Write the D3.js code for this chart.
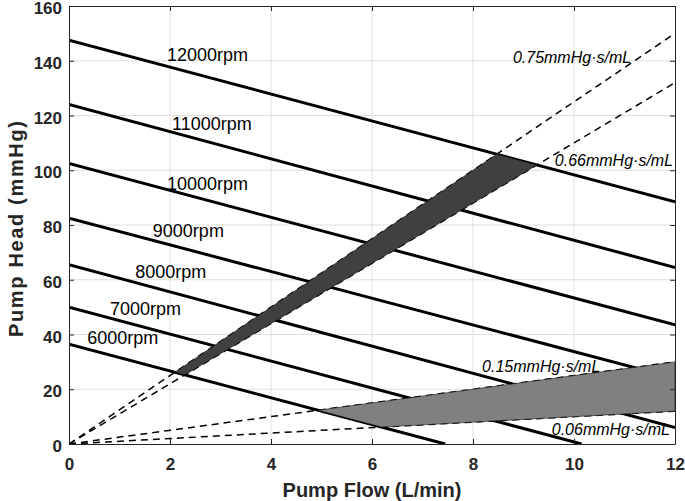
<!DOCTYPE html>
<html>
<head>
<meta charset="utf-8">
<script src="https://cdn.jsdelivr.net/npm/d3@7"></script>
<style>
body { margin: 0; background: #fff; }
text { font-family: Arial, "Liberation Sans", Helvetica, sans-serif; }
</style>
</head>
<body>
<script>
// pump curves: head at zero flow, and where each line ends
var speeds = ["6000rpm", "7000rpm", "8000rpm", "9000rpm", "10000rpm", "11000rpm", "12000rpm"];
var speedHead0 = [36.5, 50, 65.5, 82.5, 102.5, 124, 147.5];
var speedEndFlow = [7.45, 10.15, 12, 12, 12, 12, 12];
var speedEndHead = [0, 0, 6, 24, 43.5, 64.5, 88.5];

// resistance lines through the origin, head reached at 12 L/min
var resistances = ["0.06mmHg\u00B7s/mL", "0.15mmHg\u00B7s/mL", "0.66mmHg\u00B7s/mL", "0.75mmHg\u00B7s/mL"];
var resEndHead = [12, 30, 132, 150];

var xTicks = [0, 2, 4, 6, 8, 10, 12];
var yTicks = [0, 20, 40, 60, 80, 100, 120, 140, 160];

// label anchors (data units)
var speedLabelPos = [[0.36, 36.5], [0.81, 47.1], [1.31, 60.6], [1.66, 75.6], [1.94, 92.8], [2.04, 114.7], [1.94, 140.0]];
var resLabelPos = [[9.56, 3.3], [8.18, 26.4], [9.62, 101.6], [8.79, 139.3]];

var width = 685, height = 501;
var margin = { left: 69, right: 10, top: 6, bottom: 57 };

var svg = d3.select("body").append("svg")
    .attr("width", width)
    .attr("height", height)
    .style("background", "#fff");

var x = d3.scaleLinear().domain([0, 12]).range([margin.left, width - margin.right]);
var y = d3.scaleLinear().domain([0, 160]).range([height - margin.bottom, margin.top]);

svg.append("clipPath").attr("id", "plotclip")
    .append("rect")
    .attr("x", x(0)).attr("y", y(160))
    .attr("width", x(12) - x(0)).attr("height", y(0) - y(160));

// ====== GRID ======
svg.append("g").selectAll("line").data(xTicks.slice(1, -1))
    .enter().append("line")
        .attr("x1", function(d) { return x(d) }).attr("x2", function(d) { return x(d) })
        .attr("y1", y(0)).attr("y2", y(160))
        .style("stroke", "#dfdfdf");
svg.append("g").selectAll("line").data(yTicks.slice(1, -1))
    .enter().append("line")
        .attr("y1", function(d) { return y(d) }).attr("y2", function(d) { return y(d) })
        .attr("x1", x(0)).attr("x2", x(12))
        .style("stroke", "#dfdfdf");

var plot = svg.append("g").attr("clip-path", "url(#plotclip)");

// ====== PUMP CURVES ======
var speedLines = speeds.map(function(s, i) {
    return [[0, speedHead0[i]], [speedEndFlow[i], speedEndHead[i]]];
});
plot.selectAll(".speed").data(speedLines)
    .enter().append("line")
        .attr("class", "speed")
        .attr("x1", function(d) { return x(d[0][0]) })
        .attr("y1", function(d) { return y(d[0][1]) })
        .attr("x2", function(d) { return x(d[1][0]) })
        .attr("y2", function(d) { return y(d[1][1]) })
        .style("stroke", "#000")
        .style("stroke-width", 3);

// ====== RESISTANCE LINES ======
var resLines = resistances.map(function(r, i) {
    return [[0, 0], [12, resEndHead[i]]];
});
plot.selectAll(".res").data(resLines)
    .enter().append("line")
        .attr("class", "res")
        .attr("x1", function(d) { return x(d[0][0]) })
        .attr("y1", function(d) { return y(d[0][1]) })
        .attr("x2", function(d) { return x(d[1][0]) })
        .attr("y2", function(d) { return y(d[1][1]) })
        .style("stroke", "#000")
        .style("stroke-width", 1.5)
        .style("stroke-dasharray", "7,5");

// ====== OPERATING REGIONS ======
function intersect(a, b) {
    var x1 = a[0][0], y1 = a[0][1], x2 = a[1][0], y2 = a[1][1];
    var x3 = b[0][0], y3 = b[0][1], x4 = b[1][0], y4 = b[1][1];
    var den = (x1 - x2) * (y3 - y4) - (y1 - y2) * (x3 - x4);
    var t = ((x1 - x3) * (y3 - y4) - (y1 - y3) * (x3 - x4)) / den;
    return [x1 + t * (x2 - x1), y1 + t * (y2 - y1)];
}
var low = speedLines[0], high = speedLines[speedLines.length - 1];
var darkRegion = [
    intersect(resLines[3], low), intersect(resLines[3], high),
    intersect(resLines[2], high), intersect(resLines[2], low)
];
var lightRegion = [
    intersect(resLines[1], low), resLines[1][1],
    resLines[0][1], intersect(resLines[0], low)
];
var area = d3.line().x(function(d) { return x(d[0]) }).y(function(d) { return y(d[1]) });
plot.append("path")
    .attr("d", area(darkRegion) + "Z")
    .style("fill", "#404040")
    .style("stroke", "#111")
    .style("stroke-width", 0.6);
plot.append("path")
    .attr("d", area(lightRegion) + "Z")
    .style("fill", "#808080")
    .style("stroke", "#111")
    .style("stroke-width", 0.6);

// ====== LABELS ======
svg.append("g").selectAll("text").data(speeds)
    .enter().append("text")
        .attr("x", function(d, i) { return x(speedLabelPos[i][0]) })
        .attr("y", function(d, i) { return y(speedLabelPos[i][1]) })
        .style("font-size", "18px")
        .style("fill", "#000")
        .text(function(d) { return d });
svg.append("g").selectAll("text").data(resistances)
    .enter().append("text")
        .attr("x", function(d, i) { return x(resLabelPos[i][0]) })
        .attr("y", function(d, i) { return y(resLabelPos[i][1]) })
        .style("font-size", "16px")
        .style("font-style", "italic")
        .style("fill", "#000")
        .text(function(d) { return d });

// ====== AXES ======
var axisColor = "#262626";
function styleAxis(g) {
    g.select(".domain").style("stroke", axisColor);
    g.selectAll(".tick line").style("stroke", axisColor);
    g.selectAll(".tick text")
        .style("fill", axisColor)
        .style("font-size", "17px")
        .style("font-weight", "bold")
        .style("font-family", "Arial, 'Liberation Sans', sans-serif");
}
svg.append("g").attr("transform", "translate(0," + y(0) + ")")
    .call(d3.axisBottom(x).tickValues(xTicks).tickSizeInner(-5).tickSizeOuter(0).tickPadding(14))
    .call(styleAxis);
svg.append("g").attr("transform", "translate(" + x(0) + ",0)")
    .call(d3.axisLeft(y).tickValues(yTicks).tickSizeInner(-5).tickSizeOuter(0).tickPadding(7))
    .call(styleAxis)
    .selectAll(".tick text").attr("dy", "0.45em");
svg.append("g").attr("transform", "translate(0," + y(160) + ")")
    .call(d3.axisTop(x).tickValues(xTicks).tickSizeInner(-5).tickSizeOuter(0).tickFormat(""))
    .call(styleAxis);
svg.append("g").attr("transform", "translate(" + x(12) + ",0)")
    .call(d3.axisRight(y).tickValues(yTicks).tickSizeInner(-5).tickSizeOuter(0).tickFormat(""))
    .call(styleAxis);

svg.append("text")
    .attr("x", (x(0) + x(12)) / 2)
    .attr("y", 497)
    .attr("text-anchor", "middle")
    .style("font-size", "20px")
    .style("font-weight", "bold")
    .style("fill", axisColor)
    .text("Pump Flow (L/min)");
svg.append("text")
    .attr("transform", "translate(23," + ((y(0) + y(160)) / 2 + 4) + ") rotate(-90)")
    .attr("text-anchor", "middle")
    .attr("textLength", 216)
    .attr("lengthAdjust", "spacing")
    .style("font-size", "20px")
    .style("font-weight", "bold")
    .style("fill", axisColor)
    .text("Pump Head (mmHg)");
</script>
</body>
</html>
